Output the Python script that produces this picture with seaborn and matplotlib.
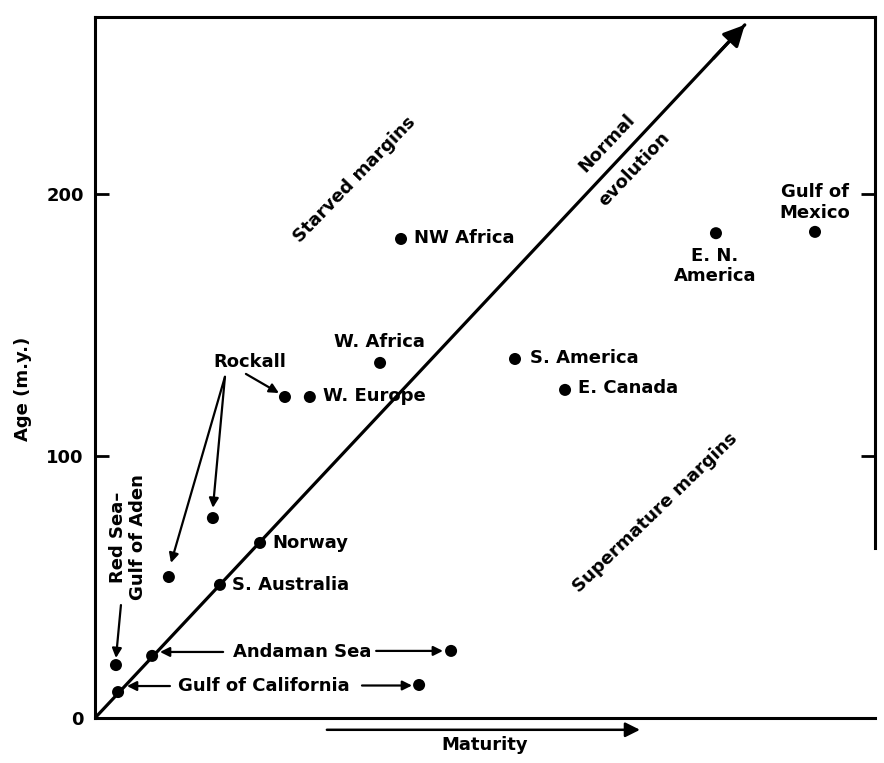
import numpy as np
import pandas as pd
import matplotlib
matplotlib.use("Agg")
import matplotlib.pyplot as plt
import seaborn as sns

sns.set_theme(style="white")
plt.rcParams["font.family"] = ["DejaVu Sans"]
plt.rcParams["font.weight"] = "bold"

# -----------------------------
# Data (maturity in arbitrary units, age in m.y.)
# -----------------------------
margins = ["Gulf of California", "Andaman Sea", "Red Sea-Gulf of Aden", "S. Australia",
           "Norway", "Rockall 1", "Rockall 2", "Rockall 3", "W. Europe", "W. Africa",
           "NW Africa", "S. America", "E. Canada", "E. N. America", "Gulf of Mexico",
           "Andaman Sea (2)", "Gulf of California (2)"]
maturity = [8.8, 21.8, 8.0, 47.7, 63.0, 28.2, 45.0, 72.5, 82.0, 108.8,
            116.8, 160.3, 179.4, 237.0, 274.8, 135.9, 123.7]
age = [9.9, 23.7, 20.2, 50.8, 66.8, 53.8, 76.3, 122.5, 122.5, 135.5,
       182.8, 137.0, 125.2, 185.0, 185.5, 25.6, 12.6]

# normal evolution trend line (start, tip)
evol_x = [0, 248]
evol_y = [0, 264.5]

y_ticks = [0, 100, 200]

df = pd.DataFrame({"margin": margins, "maturity": maturity, "age": age})

# -----------------------------
# Figure
# -----------------------------
fig = plt.figure(figsize=(8.84, 7.63), dpi=100)
ax = fig.add_axes([95 / 884, 1 - 718 / 763, 780 / 884, 701 / 763])
ax.set_xlim(0, 297.7)
ax.set_ylim(0, 267.5)

sns.scatterplot(data=df, x="maturity", y="age", color="black", s=75,
                edgecolor="none", ax=ax, zorder=4)

# Normal evolution line + arrow head
sns.lineplot(x=evol_x, y=evol_y, color="black", lw=2.3, ax=ax, zorder=3)
ax.annotate("", xy=(evol_x[1], evol_y[1]), xytext=(evol_x[1] - 12, evol_y[1] - 12.8),
            arrowprops=dict(arrowstyle="-|>", color="black", lw=2.3,
                            mutation_scale=32, shrinkA=0, shrinkB=0))

fs = 13
txt = dict(fontsize=fs, fontweight="bold", color="black")

# point labels
ax.text(121.8, 183.2, "NW Africa", ha="left", va="center", **txt)
ax.text(108.6, 143.5, "W. Africa", ha="center", va="center", **txt)
ax.text(87.0, 122.9, "W. Europe", ha="left", va="center", **txt)
ax.text(166.0, 137.4, "S. America", ha="left", va="center", **txt)
ax.text(184.4, 126.0, "E. Canada", ha="left", va="center", **txt)
ax.text(236.6, 172.5, "E. N.\nAmerica", ha="center", va="center", multialignment="center", **txt)
ax.text(274.8, 196.6, "Gulf of\nMexico", ha="center", va="center", multialignment="center", **txt)
ax.text(67.6, 66.8, "Norway", ha="left", va="center", **txt)
ax.text(52.3, 50.8, "S. Australia", ha="left", va="center", **txt)
ax.text(79.0, 25.2, "Andaman Sea", ha="center", va="center", **txt)
ax.text(64.5, 12.2, "Gulf of California", ha="center", va="center", **txt)
ax.text(59.2, 135.9, "Rockall", ha="center", va="center", **txt)
ax.text(12.6, 69.0, "Red Sea\u2013\nGulf of Aden", ha="center", va="center",
        rotation=90, multialignment="center", **txt)

# region labels
ax.text(99.2, 205.3, "Starved margins", ha="center", va="center", rotation=46, **txt)
ax.text(213.7, 78.2, "Supermature margins", ha="center", va="center", rotation=44, **txt)
ax.text(195.4, 219.5, "Normal", ha="center", va="center", rotation=46.5, **txt)
ax.text(205.7, 209.5, "evolution", ha="center", va="center", rotation=46.5, **txt)

# pointer arrows
arrow = dict(arrowstyle="-|>", color="black", lw=1.6, mutation_scale=14, shrinkA=0, shrinkB=0)
pointers = [
    ((49.6, 130.2), (29.0, 59.2)),
    ((49.6, 130.2), (45.0, 80.2)),
    ((57.6, 131.3), (70.2, 124.0)),
    ((9.9, 43.1), (8.0, 22.9)),
    ((48.9, 25.2), (24.8, 25.2)),
    ((107.3, 25.6), (132.8, 25.6)),
    ((28.6, 12.2), (12.2, 12.2)),
    ((101.9, 12.4), (121.0, 12.4)),
]
for start, end in pointers:
    ax.annotate("", xy=end, xytext=start, arrowprops=arrow)

# maturity arrow below the axis
ax.annotate("", xy=(208, -4.5), xytext=(88.5, -4.5), annotation_clip=False,
            arrowprops=dict(arrowstyle="-|>", color="black", lw=1.8,
                            mutation_scale=22, shrinkA=0, shrinkB=0))

# axes styling
ax.set_xticks([])
ax.set_yticks(y_ticks)
ax.set_yticklabels([str(v) for v in y_ticks], fontsize=fs, fontweight="bold")
ax.tick_params(axis="y", direction="in", length=10, width=2, pad=8,
               left=True, right=True, labelleft=True, labelright=False, colors="black")
for side in ["left", "right", "top", "bottom"]:
    ax.spines[side].set_color("black")
    ax.spines[side].set_linewidth(2.2)
ax.spines["right"].set_bounds(65, 267.5)

ax.set_xlabel("Maturity", fontsize=fs, fontweight="bold", color="black", labelpad=13)
ax.set_ylabel("Age (m.y.)", fontsize=fs, fontweight="bold", color="black")
ax.yaxis.set_label_coords(-0.081, 0.47)

fig.savefig("out.png", dpi=100, facecolor="white")
